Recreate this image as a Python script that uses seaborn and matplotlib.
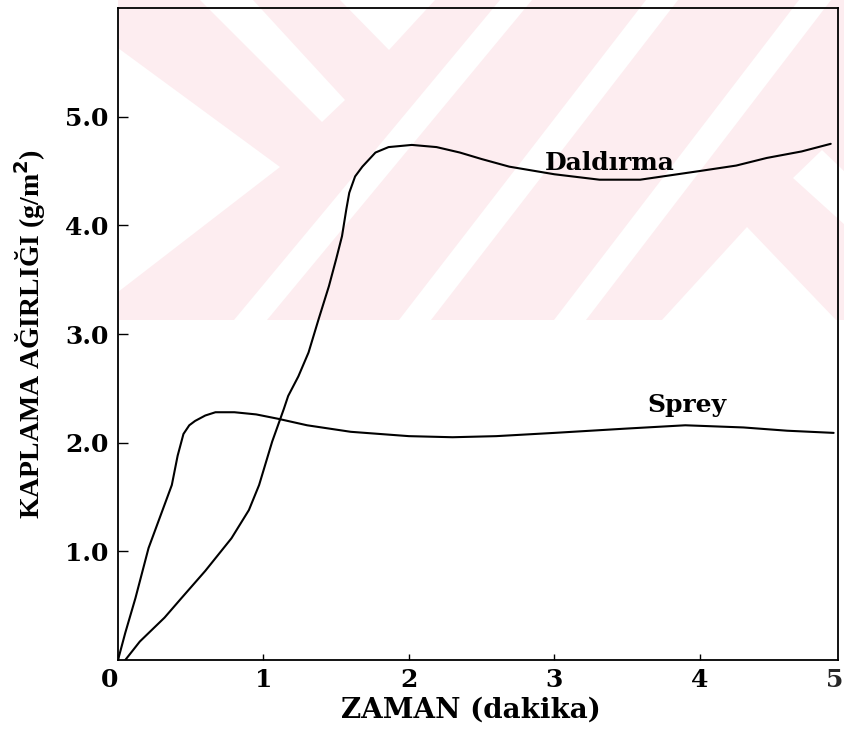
import matplotlib
matplotlib.use("Agg")
import matplotlib.pyplot as plt
import seaborn as sns
import pandas as pd
from matplotlib.patches import Polygon

# ---- data ----
sprey_x = [0, 0.05, 0.12, 0.21, 0.29, 0.37, 0.41, 0.45, 0.49, 0.53, 0.60, 0.67, 0.80,
           0.95, 1.10, 1.30, 1.60, 2.00, 2.30, 2.60, 3.00, 3.50, 3.90, 4.30, 4.60, 4.92]
sprey_y = [0, 0.25, 0.57, 1.03, 1.32, 1.61, 1.88, 2.08, 2.16, 2.20, 2.25, 2.28, 2.28,
           2.26, 2.22, 2.16, 2.10, 2.06, 2.05, 2.06, 2.09, 2.13, 2.16, 2.14, 2.11, 2.09]

dald_x = [0.05, 0.15, 0.32, 0.43, 0.60, 0.78, 0.90, 0.97, 1.06, 1.14, 1.17, 1.24, 1.31,
          1.38, 1.45, 1.50, 1.54, 1.57, 1.59, 1.63, 1.68, 1.77, 1.86, 2.02, 2.19, 2.35,
          2.50, 2.69, 3.00, 3.31, 3.59, 4.00, 4.25, 4.46, 4.70, 4.90]
dald_y = [0.0, 0.17, 0.39, 0.56, 0.82, 1.12, 1.38, 1.61, 2.01, 2.31, 2.43, 2.61, 2.83,
          3.14, 3.44, 3.69, 3.90, 4.15, 4.30, 4.45, 4.54, 4.67, 4.72, 4.74, 4.72, 4.67,
          4.61, 4.54, 4.47, 4.42, 4.42, 4.50, 4.55, 4.62, 4.68, 4.75]

x_ticks = [0, 1, 2, 3, 4, 5]
x_tick_labels = ["0", "1", "2", "3", "4", "5"]
y_ticks = [1, 2, 3, 4, 5]
y_tick_labels = ["1.0", "2.0", "3.0", "4.0", "5.0"]

series_names = ["Daldırma", "Sprey"]
label_pos = {"Daldırma": (3.38, 4.51), "Sprey": (3.91, 2.28)}

df = pd.concat([
    pd.DataFrame({"zaman": dald_x, "agirlik": dald_y, "yontem": "Daldırma"}),
    pd.DataFrame({"zaman": sprey_x, "agirlik": sprey_y, "yontem": "Sprey"}),
], ignore_index=True)

sns.set_theme(style="white")
plt.rcParams["font.family"] = ["DejaVu Serif"]
plt.rcParams["font.weight"] = "bold"

W, H = 845, 733
fig = plt.figure(figsize=(W / 100, H / 100), dpi=100)
fig.patch.set_facecolor("white")

# ---- faint scanned watermark (decoration) ----
bg = fig.add_axes([0, 0, 1, 1], zorder=0)
bg.set_xlim(0, W)
bg.set_ylim(H, 0)
bg.axis("off")
pink = "#fdedf0"
bg.add_patch(Polygon([(118, 0), (845, 0), (845, 320), (118, 320)], closed=True,
                     facecolor=pink, edgecolor="none"))
white_shapes = [
    [(118, 48), (280, 167), (118, 292)],
    [(200, 0), (253, 0), (345, 100), (322, 122)],
    [(340, 0), (435, 0), (389, 50)],
    [(500, 0), (532, 0), (267, 320), (234, 320)],
    [(646, 0), (678, 0), (431, 320), (399, 320)],
    [(799, 0), (831, 0), (586, 320), (554, 320)],
    [(747, 227), (662, 320), (836, 320)],
    [(793, 178), (822, 150), (845, 172), (845, 225)],
]
for shp in white_shapes:
    bg.add_patch(Polygon(shp, closed=True, facecolor="white", edgecolor="none"))

# ---- main axes ----
left, right, top, bottom = 118, 838, 8, 660
ax = fig.add_axes([left / W, 1 - bottom / H, (right - left) / W, (bottom - top) / H], zorder=1)
ax.patch.set_alpha(0)

sns.lineplot(data=df, x="zaman", y="agirlik", hue="yontem",
             palette={"Daldırma": "black", "Sprey": "black"},
             estimator=None, sort=False, legend=False, linewidth=1.5, ax=ax)

ax.set_xlim(0, 4.95)
ax.set_ylim(0, 6.0)

ax.set_xticks(x_ticks[:-1])
ax.set_xticklabels(x_tick_labels[:-1])
ax.set_yticks(y_ticks)
ax.set_yticklabels(y_tick_labels)
ax.xaxis.get_majorticklabels()[0].set_horizontalalignment("right")

xpad = 6
ax.tick_params(axis="both", direction="in", colors="black", labelsize=18, width=1.0)
ax.tick_params(axis="y", length=7, pad=7, left=True)
ax.tick_params(axis="x", length=4, pad=xpad, bottom=True)
for lab in ax.get_xticklabels() + ax.get_yticklabels():
    lab.set_fontweight("bold")

# last x tick label sits at the right edge of the picture in the reference
ax.annotate(x_tick_labels[-1], xy=(x_ticks[-1], 0), xycoords=("data", "axes fraction"),
            xytext=(-1.5, -xpad), textcoords="offset points", ha="right", va="top",
            fontsize=18, fontweight="bold", annotation_clip=False)

for sp in ax.spines.values():
    sp.set_visible(True)
    sp.set_color("black")
    sp.set_linewidth(1.3)

ax.set_xlabel("ZAMAN (dakika)", fontsize=20, fontweight="bold", color="black")
ax.xaxis.set_label_coords(0.49, -0.056)
ax.set_ylabel("KAPLAMA AĞIRLIĞI (g/m$^2$)", fontsize=20, fontweight="bold",
              family=["Liberation Serif", "DejaVu Serif"], color="black")
ax.yaxis.set_label_coords(-0.097, 0.5)

for name in series_names:
    lx, ly = label_pos[name]
    ax.text(lx, ly, name, ha="center", va="baseline", fontsize=18,
            fontweight="bold", color="black")

fig.savefig("out.png", dpi=100, facecolor="white")
